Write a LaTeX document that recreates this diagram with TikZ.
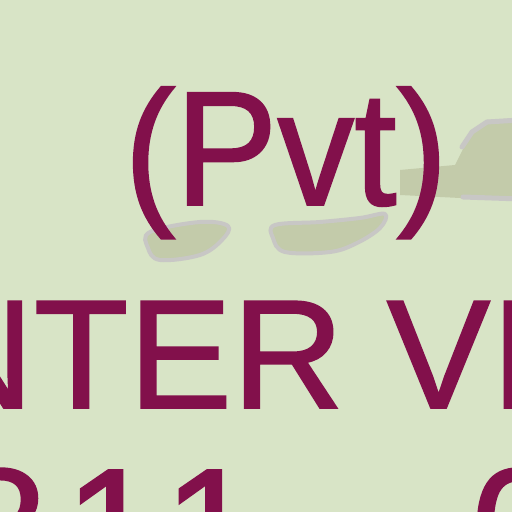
\documentclass[tikz,border=0pt]{standalone}
\usepackage{fontspec}
\setmainfont{Liberation Sans}
\usepackage{graphicx}
\definecolor{paper}{HTML}{D8E4C6}
\definecolor{plum}{HTML}{82104B}
\definecolor{haze}{HTML}{C8C7C5}
\definecolor{sage}{HTML}{C3CBAA}
\tikzset{
  word/.style={text=plum, inner sep=0pt, outer sep=0pt},
  swoosh/.style={fill=sage, draw=haze, line width=4bp, line join=round},
  mound/.style={fill=sage},
  rim/.style={draw=haze, line width=5bp, line cap=round}
}
\newcommand{\bigtype}[1]{\fontsize{#1bp}{#1bp}\selectfont\addfontfeature{FakeBold=1.2}}

\begin{document}
\begin{tikzpicture}[x=1bp, y=1bp]
  \clip (0,0) rectangle (512,512);
  \fill[paper] (0,0) rectangle (512,512);
  % grey shapes behind the lettering
  \path[mound] (400,317) -- (400,342) -- (455,347) -- (470,377) -- (487,392)
    -- (520,394) -- (520,312) -- (460,314) -- cycle;
  \draw[rim] (462,365) -- (472,380) -- (487,390) -- (520,392);
  \draw[rim] (463,315) -- (520,313);
  \path[swoosh] plot[smooth cycle, tension=0.6] coordinates
    {(150,280) (200,290) (228,286) (222,272) (200,257) (160,252) (148,264)};
  \path[swoosh] plot[smooth cycle, tension=0.6] coordinates
    {(275,287) (320,290) (360,294) (385,298) (380,284) (357,269) (330,260) (285,260) (273,274)};
  % lettering
  \node[word, anchor=base] (pvt) at (286,307) {\bigtype{163}\scalebox{0.94}[1]{(Pvt)}};
  \node[word, anchor=base west] (centre) at (-78,104) {\bigtype{155}NTER VI};
  \node[word, anchor=base west] (phone) at (-47,-75) {\bigtype{170}\addfontfeature{LetterSpace=10}811};
  \node[word, anchor=base west] (zero) at (471,-75) {\bigtype{170}0};
\end{tikzpicture}
\end{document}
